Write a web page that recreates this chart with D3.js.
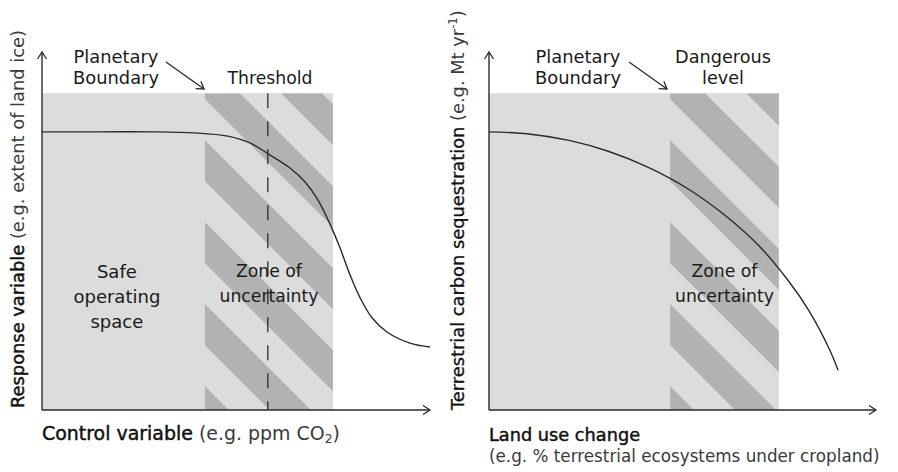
<!DOCTYPE html>
<html><head><meta charset="utf-8">
<script src="https://cdn.jsdelivr.net/npm/d3@7"></script>
<style>
html,body{margin:0;padding:0;background:#fff;}
svg{display:block;font-family:"DejaVu Sans",sans-serif;}
</style></head>
<body><svg id="c" width="898" height="472"></svg>
<script>
// ---- data (domain units 0-100 on each axis) ----
const leftCurveX = [0, 14.9, 27.8, 39.4, 47.9, 53.6, 58.8, 63.9, 67.8, 71.1, 74.2, 76.8, 79.4, 82.0, 85.1, 88.9, 94.8, 100];
const leftCurveY = [77.7, 77.7, 77.7, 77.4, 76.5, 74.6, 71.2, 67.6, 63.7, 58.7, 52.0, 45.3, 37.7, 31.3, 25.7, 21.8, 18.7, 17.6];
const rightCurveX = [0, 10.3, 20.7, 31.0, 41.3, 51.7, 62.0, 69.8, 77.5, 82.7, 87.9, 90.2];
const rightCurveY = [77.7, 77.1, 75.3, 72.2, 67.7, 61.6, 53.5, 45.8, 35.9, 27.7, 17.1, 11.1];
const leftZone = [42.0, 75.0];      // zone of uncertainty (x)
const rightZone = [46.8, 74.9];
const shadeTop = 88.5;              // top of shaded region (y)
const thresholdX = 58.2;            // dashed threshold line
const leftLabels = {boundary:["Planetary","Boundary"], upper:["Threshold"], safe:["Safe","operating","space"], zone:["Zone of","uncertainty"]};
const rightLabels = {boundary:["Planetary","Boundary"], upper:["Dangerous","level"], zone:["Zone of","uncertainty"]};

const svg = d3.select("#c");
const LIGHT = "#dcdcdc", DARK = "#b2b2b2", INK = "#2a2a2a";

const defs = svg.append("defs");
defs.append("marker").attr("id","arr").attr("viewBox","-10 -6 12 12")
  .attr("refX",0).attr("refY",0).attr("markerWidth",12).attr("markerHeight",12)
  .attr("markerUnits","userSpaceOnUse").attr("orient","auto")
  .append("path").attr("d","M-7,-4.5 L0,0 L-7,4.5").attr("fill","none")
  .attr("stroke",INK).attr("stroke-width",1.3);

// scale font-size of `sel` so that element `measure` reaches the target width
function fit(sel, target, measure){
  const base = 17;
  sel.attr("font-size", base);
  const w = (measure || sel).node().getComputedTextLength();
  const fs = base*target/w;
  sel.attr("font-size", fs);
  return fs;
}
// medium-weight emphasis
function medium(sel){ return sel.attr("fill","#111").attr("stroke","#111").attr("stroke-width",0.45); }

function panel(cfg){
  const x = d3.scaleLinear().domain([0,100]).range([cfg.x0, cfg.x1]);
  const y = d3.scaleLinear().domain([0,100]).range([410, 52]);
  const g = svg.append("g");
  g.append("rect").attr("x",x(0)).attr("y",y(shadeTop)).attr("width",x(cfg.shadeRight)-x(0))
    .attr("height",y(0)-y(shadeTop)).attr("fill",LIGHT);
  const zx0 = x(cfg.zone[0]), zx1 = x(cfg.zone[1]), zy0 = y(shadeTop), zy1 = y(0);
  const cid = "clip"+cfg.id;
  defs.append("clipPath").attr("id",cid).append("rect")
    .attr("x",zx0).attr("y",zy0).attr("width",zx1-zx0).attr("height",zy1-zy0);
  const s = 1.0, P = 82, W = 41, off = -6;
  g.append("g").attr("clip-path",`url(#${cid})`).selectAll("path").data(d3.range(-6, 4)).join("path")
    .attr("fill",DARK)
    .attr("d",k=>{
      const a = zx0 + off + k*P, b = a + W, H = 600;
      return `M${a},${zy0} L${b},${zy0} L${b+H/s},${zy0+H} L${a+H/s},${zy0+H} Z`;
    });
  if(cfg.threshold!=null){
    g.append("line").attr("x1",x(cfg.threshold)).attr("x2",x(cfg.threshold))
      .attr("y1",y(shadeTop)).attr("y2",y(0)).attr("stroke",INK).attr("stroke-width",1.3)
      .attr("stroke-dasharray","15,13");
  }
  const pts = cfg.cx.map((v,i)=>[v,cfg.cy[i]]);
  g.append("path").attr("d",d3.line().x(d=>x(d[0])).y(d=>y(d[1])).curve(d3.curveCatmullRom.alpha(0.5))(pts))
    .attr("fill","none").attr("stroke",INK).attr("stroke-width",1.4);
  g.append("line").attr("x1",x(0)).attr("x2",x(0)).attr("y1",y(0)).attr("y2",y(100))
    .attr("stroke",INK).attr("stroke-width",1.4).attr("marker-end","url(#arr)");
  g.append("line").attr("x1",x(0)).attr("x2",x(100)).attr("y1",y(0)).attr("y2",y(0))
    .attr("stroke",INK).attr("stroke-width",1.4).attr("marker-end","url(#arr)");
  function lines(arr, cx, cy0, dy, fitIdx, target){
    const t = g.append("text").attr("x",cx).attr("y",cy0).attr("text-anchor","middle").attr("fill","#1a1a1a");
    const ts = arr.map((s,i)=>t.append("tspan").attr("x",cx)
      .attr("dy", i===0 ? "0.35em" : dy).text(s));
    fit(t, target, ts[fitIdx]);
  }
  lines(cfg.labels.boundary, cfg.bx, 57, 21, 0, 85);
  lines(cfg.labels.upper, cfg.ux, cfg.uy, 21, 0, cfg.uw);
  if(cfg.labels.safe) lines(cfg.labels.safe, x(19.3), 272, 25, 1, 87);
  lines(cfg.labels.zone, x((cfg.zone[0]+cfg.zone[1])/2), 271, 25, 1, 99);
  g.append("line").attr("x1",cfg.ax[0]).attr("y1",62).attr("x2",cfg.ax[1]).attr("y2",89)
    .attr("stroke",INK).attr("stroke-width",1.3).attr("marker-end","url(#arr)");
  return {g,x,y};
}

panel({id:"L", x0:42, x1:430, shadeRight:75.0, zone:leftZone, threshold:thresholdX,
  cx:leftCurveX, cy:leftCurveY, labels:leftLabels, bx:116, ux:270, uy:78, uw:85, ax:[166,204]});
panel({id:"R", x0:489, x1:876, shadeRight:74.9, zone:rightZone, threshold:null,
  cx:rightCurveX, cy:rightCurveY, labels:rightLabels, bx:578, ux:723, uy:57, uw:96, ax:[629,667]});

// axis titles
const t1 = svg.append("text").attr("x",42).attr("y",433).attr("dy","0.35em").attr("fill","#1a1a1a");
medium(t1.append("tspan").text("Control variable "));
t1.append("tspan").attr("fill","#3a3a3a").text("(e.g. ppm CO");
t1.append("tspan").attr("font-size","0.65em").attr("baseline-shift","-25%").attr("fill","#3a3a3a").text("2");
t1.append("tspan").attr("fill","#3a3a3a").text(")");
fit(t1, 298);

const t2 = svg.append("text").attr("x",489).attr("y",435).attr("fill","#1a1a1a");
const t2a = medium(t2.append("tspan").attr("x",489).attr("dy","0.35em").text("Land use change"));
const t2b = t2.append("tspan").attr("x",489).attr("dy",21).attr("fill","#3a3a3a")
  .text("(e.g. % terrestrial ecosystems under cropland)");
const fsB = fit(t2, 391, t2b);
t2a.attr("font-size", fsB*151/(t2a.node().getComputedTextLength()));

const y1 = svg.append("text").attr("transform","translate(18,408) rotate(-90)").attr("dy","0.35em")
  .attr("fill","#1a1a1a");
medium(y1.append("tspan").text("Response variable "));
y1.append("tspan").attr("fill","#3a3a3a").text("(e.g. extent of land ice)");
fit(y1, 378);

const y2 = svg.append("text").attr("transform","translate(458,410) rotate(-90)").attr("dy","0.35em")
  .attr("fill","#1a1a1a");
medium(y2.append("tspan").text("Terrestrial carbon sequestration ")).attr("stroke-width",0.3);
y2.append("tspan").attr("fill","#3a3a3a").text("(e.g. Mt yr");
y2.append("tspan").attr("font-size","0.65em").attr("baseline-shift","super").attr("fill","#3a3a3a").text("-1");
y2.append("tspan").attr("fill","#3a3a3a").text(")");
fit(y2, 400);
</script></body></html>
